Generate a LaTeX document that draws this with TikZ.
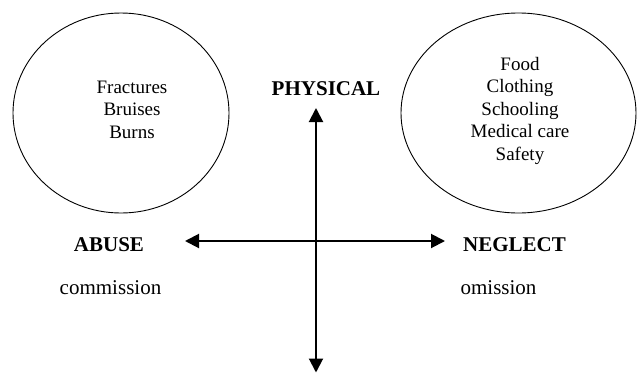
\documentclass[tikz,border=0pt]{standalone}
\usepackage{fontspec}
\setmainfont{Liberation Serif}
\usetikzlibrary{arrows.meta,shapes.geometric}
\begin{document}
\begin{tikzpicture}[x=1pt,y=-1pt,
  oval/.style={draw,ellipse,line width=0.9pt,inner sep=0pt},
  inner/.style={anchor=base,inner sep=0pt,font=\fontsize{19}{22}\selectfont},
  lbl/.style={anchor=base,inner sep=0pt,font=\fontsize{21}{24}\selectfont\bfseries},
  sub/.style={anchor=base,inner sep=0pt,font=\fontsize{21}{24}\selectfont},
  axis/.style={line width=2pt,{Triangle[length=14pt,width=14pt]}-{Triangle[length=14pt,width=14pt]}}]
\useasboundingbox (0,0) rectangle (638,373);
\node[oval,minimum width=216pt,minimum height=200pt] (le) at (121,113) {};
\node[oval,minimum width=235pt,minimum height=200pt] (re) at (518.5,113) {};
\node[inner] (t1) at (132,93) {Fractures};
\node[inner] (t2) at (132,115.5) {Bruises};
\node[inner] (t3) at (132,138) {Burns};
\node[inner] (r1) at (520,70) {Food};
\node[inner] (r2) at (520,92.5) {Clothing};
\node[inner] (r3) at (520,115) {Schooling};
\node[inner] (r4) at (520,137.5) {Medical care};
\node[inner] (r5) at (520,160) {Safety};
\node[lbl] (phys) at (326,95) {PHYSICAL};
\node[lbl] (abuse) at (109,251) {ABUSE};
\node[lbl] (neglect) at (514.5,251) {NEGLECT};
\node[sub] (comm) at (110.5,294) {commission};
\node[sub] (omis) at (498.5,294) {omission};
\coordinate (top) at (316,108);
\coordinate (bot) at (316,372.5);
\coordinate (lft) at (185,241);
\coordinate (rgt) at (445,241);
\draw[axis] (top) -- (bot);
\draw[axis] (lft) -- (rgt);
\end{tikzpicture}
\end{document}
